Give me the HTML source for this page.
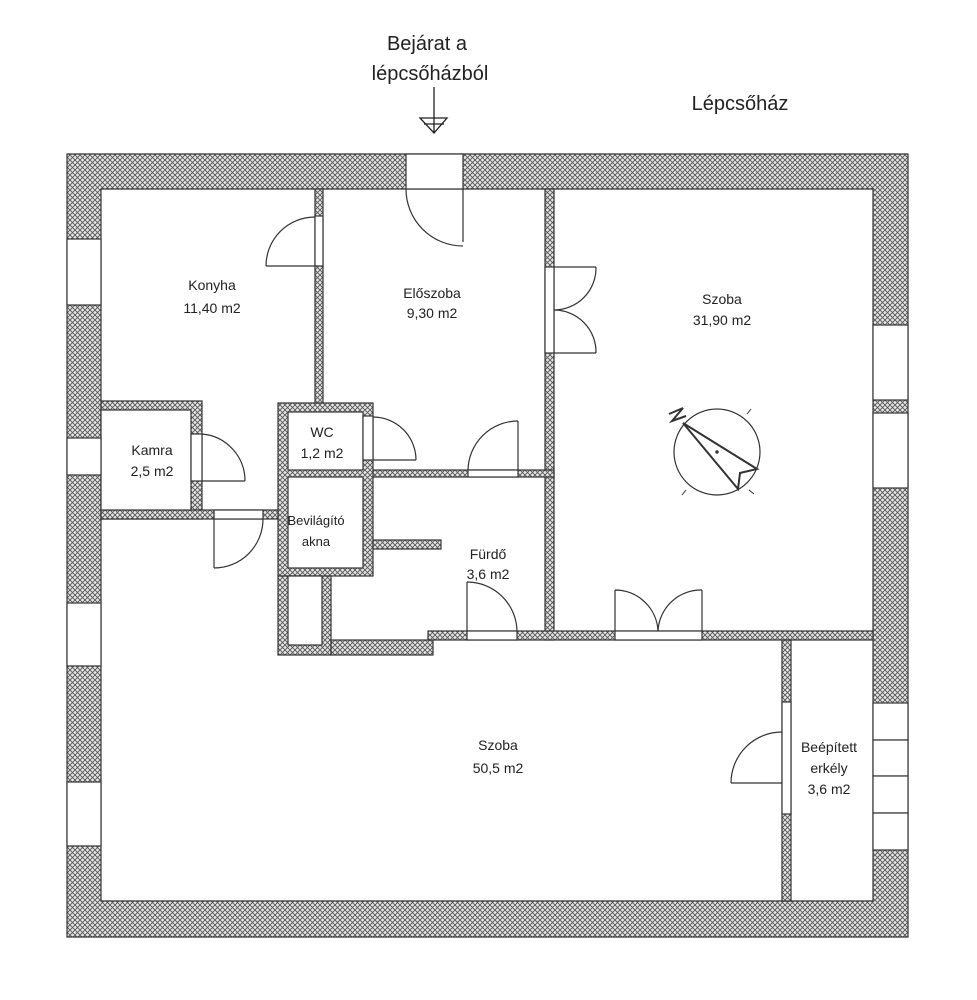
<!DOCTYPE html>
<html><head><meta charset="utf-8"><style>
html,body{margin:0;padding:0;background:#fff;}
svg{display:block;}
text{font-family:"Liberation Sans",sans-serif;fill:#222;}
</style></head><body>
<svg width="977" height="1000" viewBox="0 0 977 1000" xmlns="http://www.w3.org/2000/svg">
<defs>
<pattern id="h" width="5" height="5" patternUnits="userSpaceOnUse">
<rect width="5" height="5" fill="#e6e6e6"/>
<path d="M0,0L5,5M5,0L0,5" stroke="#555" stroke-width="0.9"/>
</pattern>
</defs>
<g stroke="#333" stroke-width="1.2" fill="url(#h)">
<path fill-rule="evenodd" d="M67,154H908V937H67Z M101,189V901H873V189Z"/>
<rect x="315" y="189" width="8" height="214"/>
<rect x="545" y="189" width="9" height="451"/>
<rect x="370" y="470" width="184" height="7"/>
<rect x="278" y="403" width="95" height="173"/>
<rect x="278" y="576" width="53" height="79"/>
<rect x="331" y="640" width="102" height="15"/>
<rect x="428" y="631" width="445" height="9"/>
<rect x="101" y="401" width="101" height="118"/>
<rect x="101" y="510" width="177" height="9"/>
<rect x="373" y="540" width="68" height="9"/>
<rect x="782" y="640" width="9" height="261"/>
</g>
<g stroke="#333" stroke-width="1.2" fill="#fff">
<rect x="288" y="412" width="75" height="58"/>
<rect x="288" y="477" width="75" height="91"/>
<rect x="288" y="576" width="34" height="69"/>
<rect x="101" y="410" width="90" height="100"/>
<rect x="67" y="239" width="34" height="66"/>
<rect x="67" y="438" width="34" height="37"/>
<rect x="67" y="603" width="34" height="63"/>
<rect x="67" y="782" width="34" height="64"/>
<rect x="873" y="325" width="35" height="75"/>
<rect x="873" y="413" width="35" height="75"/>
<rect x="873" y="703" width="35" height="37"/>
<rect x="873" y="740" width="35" height="36"/>
<rect x="873" y="776" width="35" height="37"/>
<rect x="873" y="813" width="35" height="37"/>
<rect x="406" y="154" width="57" height="35"/>
<rect x="315" y="216" width="8" height="50"/>
<rect x="545" y="267" width="9" height="86"/>
<rect x="468" y="470" width="50" height="7"/>
<rect x="363" y="416" width="10" height="44"/>
<rect x="191" y="434" width="11" height="47"/>
<rect x="214" y="510" width="49" height="9"/>
<rect x="615" y="631" width="87" height="9"/>
<rect x="467" y="631" width="50" height="9"/>
<rect x="782" y="702" width="9" height="112"/>
</g>
<g stroke="#333" stroke-width="1.2" fill="none">
<path d="M463,189V242 M406,189A57,57 0 0 0 463,246"/>
<path d="M266,266H315 M266,266A49,49 0 0 1 315,217"/>
<path d="M554,267H596 M596,267A42,42 0 0 1 554,310 M554,353H596 M596,353A42,42 0 0 0 554,310"/>
<path d="M518,421V470 M518,421A50,50 0 0 0 468,470"/>
<path d="M373,460H416 M373,417A43,43 0 0 1 416,460"/>
<path d="M202,481H245 M202,434A47,47 0 0 1 245,481"/>
<path d="M214,519V568 M263,519A49,49 0 0 1 214,568"/>
<path d="M467,582V631 M467,582A50,50 0 0 1 517,631"/>
<path d="M615,590V631 M702,590V631 M615,590A43,43 0 0 1 658,631 M702,590A43,43 0 0 0 658,631"/>
<path d="M731,783H782 M731,783A51,51 0 0 1 782,732"/>
</g>
<g stroke="#222" stroke-width="1.3" fill="none">
<path d="M434,87V133 M420,118H447L434,133Z M424,124H444"/>
</g>
<g stroke="#333" fill="none">
<circle cx="717" cy="452" r="43" stroke-width="1.2"/>
<path d="M683,423L757,469L740,473L738,489Z" stroke-width="2"/>
<path d="M747,414l4,-5 M686,490l-4,5 M749,490l5,4" stroke-width="1"/>
<circle cx="717" cy="452" r="1.2" fill="#333"/>
<path d="M669,414L683,408L672,421L686,416" stroke-width="2"/>
</g>
<g font-size="14" text-anchor="middle">
<text x="212" y="290">Konyha</text><text x="212" y="313">11,40 m2</text>
<text x="432" y="298">Előszoba</text><text x="432" y="318">9,30 m2</text>
<text x="722" y="304">Szoba</text><text x="722" y="325">31,90 m2</text>
<text x="322" y="437">WC</text><text x="322" y="458">1,2 m2</text>
<text x="152" y="455">Kamra</text><text x="152" y="476">2,5 m2</text>
<text x="316" y="525" font-size="13">Bevilágító</text><text x="316" y="546" font-size="13">akna</text>
<text x="488" y="559">Fürdő</text><text x="488" y="579">3,6 m2</text>
<text x="498" y="750">Szoba</text><text x="498" y="773">50,5 m2</text>
<text x="829" y="752">Beépített</text><text x="829" y="773">erkély</text><text x="829" y="794">3,6 m2</text>
</g>
<g font-size="20" text-anchor="middle">
<text x="427" y="50">Bejárat a</text>
<text x="430" y="80">lépcsőházból</text>
<text x="740" y="110">Lépcsőház</text>
</g>
</svg>
</body></html>
